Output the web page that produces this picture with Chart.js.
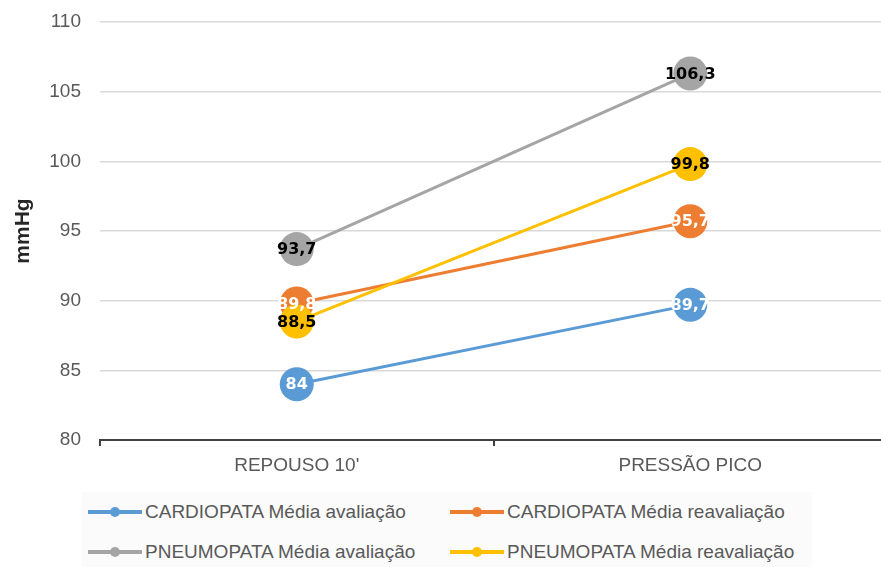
<!DOCTYPE html>
<html>
<head>
<meta charset="utf-8">
<script src="https://cdn.jsdelivr.net/npm/chart.js@4.4.0/dist/chart.umd.min.js"></script>
<style>
  body { margin: 0; background: #fff; overflow: hidden; width: 881px; height: 567px; position: relative; }
  #bpChart { position: absolute; left: 0; top: 0; }
  #legend { position: absolute; left: 82px; top: 492px; width: 730px; height: 75px; background: #fbfbfb;
            font-family: "Liberation Sans", Arial, sans-serif; font-size: 19px; color: #595959; }
  .item { position: absolute; display: flex; align-items: center; white-space: nowrap; height: 38px; }
  .mark { position: relative; flex: 0 0 54px; height: 4px; margin-right: 3px; }
  .mark span { position: absolute; left: 22px; top: -3px; width: 10px; height: 10px; border-radius: 50%; }
</style>
</head>
<body>
<canvas id="bpChart" width="904" height="480"></canvas>
<div id="legend"></div>
<script>
// data
const categories = ["REPOUSO 10'", "PRESSÃO PICO"];
const seriesNames = [
    'CARDIOPATA Média avaliação',
    'CARDIOPATA Média reavaliação',
    'PNEUMOPATA Média avaliação',
    'PNEUMOPATA Média reavaliação'
];
const cardioAval = [84, 89.7];
const cardioReaval = [89.8, 95.7];
const pneumoAval = [93.7, 106.3];
const pneumoReaval = [88.5, 99.8];

const colors = ['#5B9BD5', '#ED7D31', '#A5A5A5', '#FFC000'];
const labelColors = ['#ffffff', '#ffffff', '#000000', '#000000'];

const values = [cardioAval, cardioReaval, pneumoAval, pneumoReaval];

const datasets = values.map(function(v, i) {
    return {
        label: seriesNames[i],
        data: v,
        borderColor: colors[i],
        backgroundColor: colors[i],
        borderWidth: 3,
        pointRadius: 17,
        pointHoverRadius: 17,
        pointBorderWidth: 0,
        order: 3 - i // later series drawn on top, like the original
    };
});

// value labels inside the markers
const pointLabels = {
    id: 'pointLabels',
    afterDatasetsDraw(chart) {
        const ctx = chart.ctx;
        ctx.save();
        ctx.font = 'bold 16px "DejaVu Sans", sans-serif';
        ctx.textAlign = 'center';
        ctx.textBaseline = 'middle';
        chart.data.datasets.forEach(function(ds, i) {
            const meta = chart.getDatasetMeta(i);
            meta.data.forEach(function(pt, j) {
                ctx.fillStyle = labelColors[i];
                ctx.fillText(String(ds.data[j]).replace('.', ','), pt.x, pt.y + 1);
            });
        });
        ctx.restore();
    }
};

const config = {
    type: 'line',
    data: {
        labels: categories,
        datasets: datasets
    },
    options: {
        animation: false,
        responsive: false,
        layout: {
            padding: { top: 22, left: 0, right: 0, bottom: 0 }
        },
        plugins: {
            legend: { display: false },
            tooltip: { enabled: false }
        },
        scales: {
            x: {
                offset: true,
                grid: {
                    offset: true,
                    drawOnChartArea: false,
                    drawTicks: true,
                    tickLength: 6,
                    color: '#404040',
                    lineWidth: 2
                },
                border: { display: true, color: '#404040', width: 2 },
                ticks: {
                    padding: 8,
                    color: '#595959',
                    font: { family: '"Liberation Sans", Arial, sans-serif', size: 19 }
                },
                afterFit: function(scale) { scale.height = 40; }
            },
            y: {
                min: 80,
                max: 110,
                ticks: {
                    stepSize: 5,
                    padding: 0,
                    color: '#595959',
                    font: { family: '"Liberation Sans", Arial, sans-serif', size: 19 }
                },
                grid: {
                    drawTicks: true,
                    tickLength: 19,
                    tickColor: 'rgba(0,0,0,0)',
                    color: '#d9d9d9',
                    lineWidth: 1.5
                },
                border: { display: false },
                title: {
                    display: true,
                    text: 'mmHg',
                    color: '#262626',
                    padding: { top: 11, bottom: 0 },
                    font: { family: '"Liberation Sans", Arial, sans-serif', size: 21, weight: 'bold' }
                },
                afterFit: function(scale) { scale.width = 100; }
            }
        }
    },
    plugins: [pointLabels]
};

const ctx = document.getElementById('bpChart').getContext('2d');
const myChart = new Chart(ctx, config);

// legend in two columns, same order as the datasets
const legendBox = document.getElementById('legend');
const legendLeft = [6, 368];
const legendTop = [1, 41];
seriesNames.forEach(function(name, i) {
    const div = document.createElement('div');
    div.className = 'item';
    div.style.left = legendLeft[i % 2] + 'px';
    div.style.top = legendTop[Math.floor(i / 2)] + 'px';
    div.innerHTML = '<div class="mark" style="background:' + colors[i] + '"><span style="background:' + colors[i] + '"></span></div>' + name;
    legendBox.appendChild(div);
});
</script>
</body>
</html>
